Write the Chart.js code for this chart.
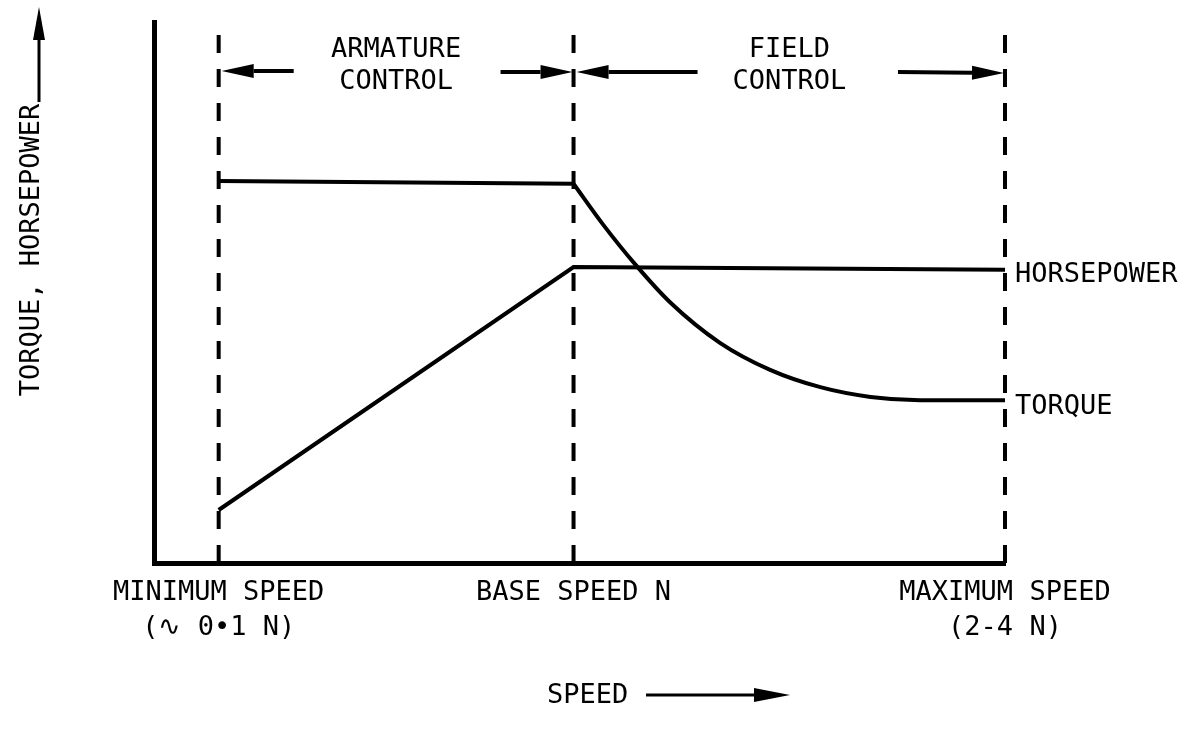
<!DOCTYPE html>
<html>
<head>
<meta charset="utf-8">
<title>Torque and horsepower versus speed</title>
<script src="https://cdn.jsdelivr.net/npm/chart.js@4.4.1/dist/chart.umd.min.js"></script>
<style>
  html, body { margin: 0; padding: 0; background: #fff; }
  #wrap { width: 1184px; height: 733px; position: relative; }
</style>
</head>
<body>
<div id="wrap"><canvas id="c"></canvas></div>
<script>
// Speed runs 0–100 from the axis origin to maximum speed;
// torque and horsepower are in relative units, 0–100.
const speedMarks = [7.6, 49.3, 100];                 // minimum, base, maximum speed
const speedLabels = [
  ["MINIMUM SPEED", "(\u223F 0\u20221 N)"],
  ["BASE SPEED N"],
  ["MAXIMUM SPEED", "(2-4 N)"]
];
const torqueArmatureSpeed = [7.6, 49.3];
const torqueArmature      = [70.6, 70.1];
const torqueFieldSpeed = [49.3, 52.8, 56.6, 60.7, 66.5, 72.4, 78.3, 84.2, 90.0, 100];
const torqueField      = [70.1, 62.5, 55.1, 48.1, 40.7, 35.7, 32.5, 30.7, 30.1, 30.1];
const hpSpeed    = [7.6, 49.3, 100];
const horsepower = [9.8, 54.7, 54.2];
const regionNames = [["ARMATURE", "CONTROL"], ["FIELD", "CONTROL"]];
const curveNames  = ["HORSEPOWER", "TORQUE"];
const yTitle = "TORQUE, HORSEPOWER";
const xTitle = "SPEED";

const FONT = '"DejaVu Sans Mono", "Liberation Mono", monospace';
const INK = '#000';

const pts = (xs, ys) => xs.map((x, i) => ({ x, y: ys[i] }));

// vertical dashed boundaries at each speed mark
const boundaryDatasets = speedMarks.map(s => ({
  label: 'boundary',
  data: [{ x: s, y: 0 }, { x: s, y: 100 }],
  borderColor: INK, borderWidth: 4, borderDash: [18, 16],
  pointRadius: 0, tension: 0, clip: false
}));

function arrow(ctx, x0, y0, x1, y1, head, half) {
  const a = Math.atan2(y1 - y0, x1 - x0);
  const bx = x1 - head * Math.cos(a), by = y1 - head * Math.sin(a);
  ctx.beginPath();
  ctx.moveTo(x0, y0); ctx.lineTo(bx, by);
  ctx.stroke();
  ctx.beginPath();
  ctx.moveTo(x1, y1);
  ctx.lineTo(bx - half * Math.sin(a), by + half * Math.cos(a));
  ctx.lineTo(bx + half * Math.sin(a), by - half * Math.cos(a));
  ctx.closePath();
  ctx.fill();
}

const annotations = {
  id: 'annotations',
  afterDraw(chart) {
    const { ctx, scales: { x } } = chart;
    const area = chart.chartArea;
    const px = speedMarks.map(s => x.getPixelForValue(s));
    ctx.save();
    ctx.fillStyle = INK; ctx.strokeStyle = INK;
    ctx.font = '27px ' + FONT;
    ctx.textAlign = 'center'; ctx.textBaseline = 'middle';

    // region names between the dashed boundaries
    [[px[0], px[1]], [px[1], px[2]]].forEach(([a, b], i) => {
      const cx = (a + b) / 2;
      ctx.fillText(regionNames[i][0], cx, area.top + 28);
      ctx.fillText(regionNames[i][1], cx, area.top + 60);
    });

    // extent arrows for each control region
    ctx.lineWidth = 4;
    const ay = area.top + 49;
    arrow(ctx, px[0] + 75, ay, px[0] + 3, ay, 32, 7);
    arrow(ctx, px[1] - 73, ay + 1, px[1] - 1, ay + 1, 32, 7);
    arrow(ctx, px[1] + 124, ay + 1, px[1] + 3, ay + 1, 32, 7);
    arrow(ctx, px[2] - 107, ay + 1, px[2] - 1, ay + 2, 32, 7);

    // curve names at the right end of each curve
    ctx.textAlign = 'left';
    const hpMeta = chart.getDatasetMeta(2).data;
    const tqMeta = chart.getDatasetMeta(1).data;
    const hpEnd = hpMeta[hpMeta.length - 1];
    const tqEnd = tqMeta[tqMeta.length - 1];
    ctx.fillText(curveNames[0], hpEnd.x + 10, hpEnd.y + 5);
    ctx.fillText(curveNames[1], tqEnd.x + 10, tqEnd.y + 7);

    // vertical axis title with arrow
    ctx.save();
    ctx.translate(32, 250);
    ctx.rotate(-Math.PI / 2);
    ctx.textAlign = 'center';
    ctx.fillText(yTitle, 0, 0);
    ctx.restore();
    ctx.lineWidth = 3;
    arrow(ctx, 39, 102, 39, 7, 33, 6);

    // horizontal axis title with arrow
    ctx.textAlign = 'left';
    ctx.fillText(xTitle, 547, 696);
    arrow(ctx, 646, 695, 790, 695, 36, 7);
    ctx.restore();
  }
};

new Chart(document.getElementById('c'), {
  type: 'line',
  data: {
    datasets: [
      { label: 'Torque (armature control)', data: pts(torqueArmatureSpeed, torqueArmature),
        borderColor: INK, borderWidth: 4, pointRadius: 0, tension: 0, clip: false },
      { label: 'Torque (field control)', data: pts(torqueFieldSpeed, torqueField),
        borderColor: INK, borderWidth: 4, pointRadius: 0, cubicInterpolationMode: 'monotone', clip: false },
      { label: 'Horsepower', data: pts(hpSpeed, horsepower),
        borderColor: INK, borderWidth: 4, pointRadius: 0, tension: 0, clip: false },
      ...boundaryDatasets
    ]
  },
  options: {
    responsive: true,
    maintainAspectRatio: false,
    animation: false,
    layout: { padding: { left: 0, top: 22, right: 179, bottom: 0 } },
    plugins: { legend: { display: false }, tooltip: { enabled: false } },
    scales: {
      x: {
        type: 'linear', min: 0, max: 100,
        grid: { display: false, drawTicks: false },
        border: { display: true, color: INK, width: 5 },
        afterBuildTicks: s => { s.ticks = speedMarks.map(v => ({ value: v })); },
        afterFit: s => { s.height = 170; },
        ticks: {
          autoSkip: false, maxRotation: 0, minRotation: 0, padding: 12,
          color: INK, font: { family: FONT, size: 27, lineHeight: 1.3 },
          callback: (v, i) => speedLabels[i]
        }
      },
      y: {
        type: 'linear', min: 0, max: 100,
        grid: { display: false, drawTicks: false },
        border: { display: true, color: INK, width: 5 },
        ticks: { display: false },
        afterFit: s => { s.width = 154; }
      }
    }
  },
  plugins: [annotations]
});
</script>
</body>
</html>
